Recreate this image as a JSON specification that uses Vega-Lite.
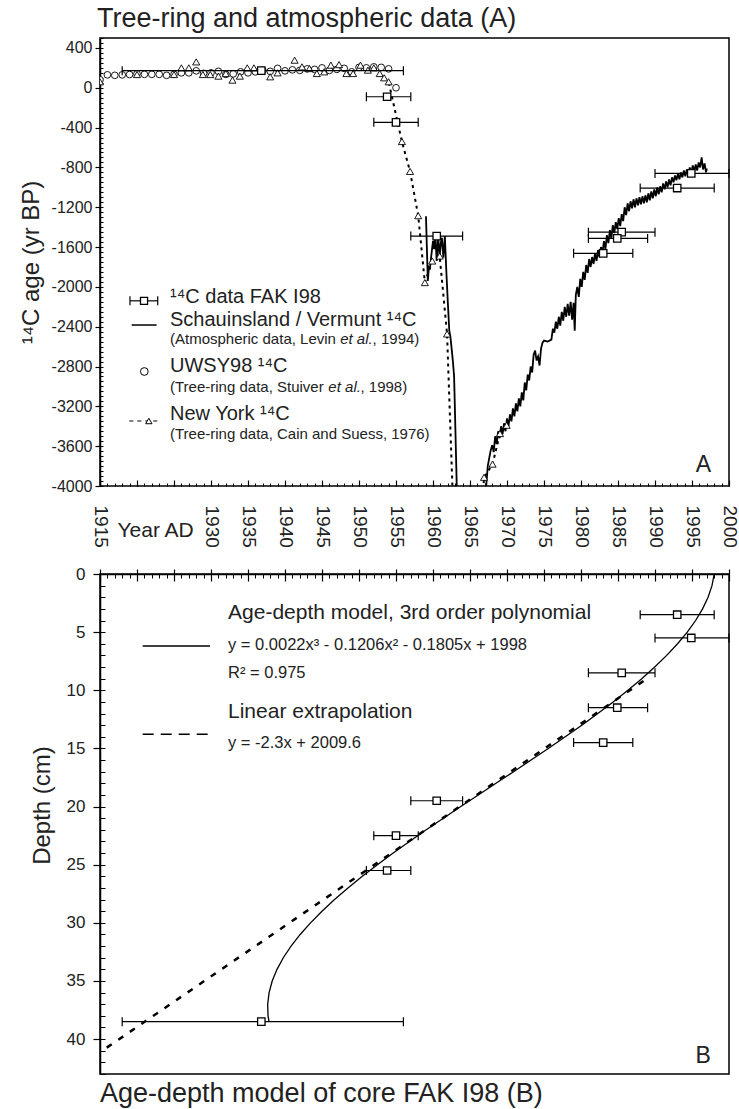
{
  "$schema": "https://vega.github.io/schema/vega-lite/v6.json",
  "background": "white",
  "padding": {"left": 18, "top": 4, "right": 2, "bottom": 6},
  "bounds": "flush",
  "spacing": 88,
  "config": {
    "font": "Liberation Sans",
    "view": {"stroke": "black", "strokeWidth": 1.5},
    "axis": {"domainColor": "black", "tickColor": "black", "labelColor": "#222", "titleColor": "#222", "labelFont": "Liberation Sans", "titleFont": "Liberation Sans", "titleFontWeight": "normal", "grid": false, "labelFlush": false, "labelOverlap": false, "labelBound": false},
    "title": {"font": "Liberation Sans", "fontWeight": "normal", "color": "#222"},
    "text": {"font": "Liberation Sans", "color": "#222"}
  },
  "title": {"text": "Tree-ring and atmospheric data (A)", "anchor": "start", "frame": "group", "fontSize": 27, "offset": 4, "dx": -3},
  "datasets": {
    "fak": [
      {"depth": 3.5, "year": 1993.0, "lo": 1988.0, "hi": 1998.0, "c14": -1007},
      {"depth": 5.5, "year": 1994.9, "lo": 1990.0, "hi": 2000.0, "c14": -860},
      {"depth": 8.5, "year": 1985.5, "lo": 1981.0, "hi": 1990.0, "c14": -1450},
      {"depth": 11.5, "year": 1984.9, "lo": 1981.0, "hi": 1989.0, "c14": -1513},
      {"depth": 14.5, "year": 1983.0, "lo": 1979.0, "hi": 1987.0, "c14": -1663},
      {"depth": 19.5, "year": 1960.5, "lo": 1957.0, "hi": 1964.0, "c14": -1490},
      {"depth": 22.5, "year": 1955.0, "lo": 1952.0, "hi": 1958.0, "c14": -347},
      {"depth": 25.5, "year": 1953.8, "lo": 1951.0, "hi": 1957.0, "c14": -90},
      {"depth": 38.5, "year": 1936.8, "lo": 1918.0, "hi": 1956.0, "c14": 172}
    ],
    "atm": [
      {"year": 1959.05, "c14": -1290}, {"year": 1959.3, "c14": -1940}, {"year": 1959.45, "c14": -1800},
      {"year": 1959.6, "c14": -1810}, {"year": 1959.75, "c14": -1700}, {"year": 1959.9, "c14": -1600},
      {"year": 1960.0, "c14": -1540}, {"year": 1960.15, "c14": -1620}, {"year": 1960.3, "c14": -1473},
      {"year": 1960.5, "c14": -1740}, {"year": 1960.7, "c14": -1490}, {"year": 1960.9, "c14": -1707},
      {"year": 1961.05, "c14": -1560}, {"year": 1961.2, "c14": -1507}, {"year": 1961.4, "c14": -1707},
      {"year": 1961.6, "c14": -1490}, {"year": 1961.8, "c14": -1840}, {"year": 1962.0, "c14": -2150},
      {"year": 1962.2, "c14": -2440}, {"year": 1962.35, "c14": -2500}, {"year": 1962.5, "c14": -2607},
      {"year": 1962.6, "c14": -2680}, {"year": 1962.7, "c14": -2757}, {"year": 1962.85, "c14": -2900},
      {"year": 1962.9, "c14": -3040}, {"year": 1963.2, "c14": -3973}, {"year": 1963.5, "c14": -5500},
      {"year": 1964.0, "c14": -6800}, {"year": 1964.5, "c14": -7200}, {"year": 1965.0, "c14": -6900},
      {"year": 1966.0, "c14": -5800}, {"year": 1966.8, "c14": -4600}, {"year": 1967.1, "c14": -4100},
      {"year": 1967.2, "c14": -3990}, {"year": 1967.4, "c14": -3800}, {"year": 1967.6, "c14": -3720},
      {"year": 1967.8, "c14": -3640}, {"year": 1968.0, "c14": -3590}, {"year": 1968.2, "c14": -3660},
      {"year": 1968.4, "c14": -3500}, {"year": 1968.6, "c14": -3580}, {"year": 1968.8, "c14": -3450},
      {"year": 1969.0, "c14": -3520}, {"year": 1969.2, "c14": -3400}, {"year": 1969.4, "c14": -3480},
      {"year": 1969.6, "c14": -3370}, {"year": 1969.8, "c14": -3450}, {"year": 1970.0, "c14": -3320},
      {"year": 1970.2, "c14": -3400}, {"year": 1970.4, "c14": -3280}, {"year": 1970.6, "c14": -3350},
      {"year": 1970.8, "c14": -3220}, {"year": 1971.0, "c14": -3300}, {"year": 1971.2, "c14": -3170},
      {"year": 1971.4, "c14": -3250}, {"year": 1971.6, "c14": -3120}, {"year": 1971.8, "c14": -3200},
      {"year": 1972.0, "c14": -3060}, {"year": 1972.2, "c14": -3140}, {"year": 1972.4, "c14": -2960},
      {"year": 1972.6, "c14": -3040}, {"year": 1972.8, "c14": -2880}, {"year": 1973.0, "c14": -2940},
      {"year": 1973.2, "c14": -2800}, {"year": 1973.4, "c14": -2860}, {"year": 1973.6, "c14": -2680},
      {"year": 1973.8, "c14": -2640}, {"year": 1974.0, "c14": -2740}, {"year": 1974.2, "c14": -2700},
      {"year": 1974.4, "c14": -2790}, {"year": 1974.6, "c14": -2620}, {"year": 1974.8, "c14": -2560},
      {"year": 1975.0, "c14": -2540}, {"year": 1975.5, "c14": -2550}, {"year": 1976.0, "c14": -2530},
      {"year": 1976.2, "c14": -2420}, {"year": 1976.4, "c14": -2460}, {"year": 1976.6, "c14": -2350},
      {"year": 1976.8, "c14": -2420}, {"year": 1977.0, "c14": -2300}, {"year": 1977.2, "c14": -2390},
      {"year": 1977.4, "c14": -2250}, {"year": 1977.6, "c14": -2340}, {"year": 1977.8, "c14": -2200},
      {"year": 1978.0, "c14": -2300}, {"year": 1978.2, "c14": -2170}, {"year": 1978.4, "c14": -2290},
      {"year": 1978.6, "c14": -2150}, {"year": 1978.8, "c14": -2330}, {"year": 1979.0, "c14": -2160},
      {"year": 1979.15, "c14": -2440}, {"year": 1979.3, "c14": -2080}, {"year": 1979.5, "c14": -2000},
      {"year": 1979.7, "c14": -2100}, {"year": 1979.9, "c14": -1920}, {"year": 1980.1, "c14": -2000},
      {"year": 1980.3, "c14": -1850}, {"year": 1980.5, "c14": -1930}, {"year": 1980.7, "c14": -1780},
      {"year": 1980.9, "c14": -1860}, {"year": 1981.1, "c14": -1720}, {"year": 1981.3, "c14": -1800},
      {"year": 1981.5, "c14": -1700}, {"year": 1981.7, "c14": -1770}, {"year": 1981.9, "c14": -1660},
      {"year": 1982.1, "c14": -1740}, {"year": 1982.3, "c14": -1630}, {"year": 1982.5, "c14": -1700},
      {"year": 1982.7, "c14": -1600}, {"year": 1982.9, "c14": -1660}, {"year": 1983.1, "c14": -1540},
      {"year": 1983.3, "c14": -1620}, {"year": 1983.5, "c14": -1480}, {"year": 1983.7, "c14": -1560},
      {"year": 1983.9, "c14": -1430}, {"year": 1984.1, "c14": -1510}, {"year": 1984.3, "c14": -1380},
      {"year": 1984.5, "c14": -1460}, {"year": 1984.7, "c14": -1350}, {"year": 1984.9, "c14": -1420},
      {"year": 1985.1, "c14": -1310}, {"year": 1985.3, "c14": -1390}, {"year": 1985.5, "c14": -1270},
      {"year": 1985.7, "c14": -1340}, {"year": 1985.9, "c14": -1200}, {"year": 1986.1, "c14": -1280},
      {"year": 1986.3, "c14": -1160}, {"year": 1986.5, "c14": -1240}, {"year": 1986.7, "c14": -1140},
      {"year": 1986.9, "c14": -1210}, {"year": 1987.1, "c14": -1120}, {"year": 1987.3, "c14": -1200},
      {"year": 1987.5, "c14": -1110}, {"year": 1987.7, "c14": -1180}, {"year": 1987.9, "c14": -1100},
      {"year": 1988.1, "c14": -1170}, {"year": 1988.3, "c14": -1090}, {"year": 1988.5, "c14": -1160},
      {"year": 1988.7, "c14": -1080}, {"year": 1988.9, "c14": -1150}, {"year": 1989.1, "c14": -1060},
      {"year": 1989.3, "c14": -1130}, {"year": 1989.5, "c14": -1040}, {"year": 1989.7, "c14": -1110},
      {"year": 1989.9, "c14": -1020}, {"year": 1990.1, "c14": -1090}, {"year": 1990.3, "c14": -1000},
      {"year": 1990.5, "c14": -1070}, {"year": 1990.7, "c14": -990}, {"year": 1990.9, "c14": -1050},
      {"year": 1991.1, "c14": -960}, {"year": 1991.3, "c14": -1020}, {"year": 1991.5, "c14": -940},
      {"year": 1991.7, "c14": -1000}, {"year": 1991.9, "c14": -920}, {"year": 1992.1, "c14": -980},
      {"year": 1992.3, "c14": -900}, {"year": 1992.5, "c14": -950}, {"year": 1992.7, "c14": -880},
      {"year": 1992.9, "c14": -930}, {"year": 1993.1, "c14": -860}, {"year": 1993.3, "c14": -920},
      {"year": 1993.5, "c14": -850}, {"year": 1993.7, "c14": -900}, {"year": 1993.9, "c14": -830},
      {"year": 1994.1, "c14": -890}, {"year": 1994.3, "c14": -820}, {"year": 1994.5, "c14": -870},
      {"year": 1994.7, "c14": -800}, {"year": 1994.9, "c14": -860}, {"year": 1995.1, "c14": -780},
      {"year": 1995.3, "c14": -840}, {"year": 1995.5, "c14": -770}, {"year": 1995.7, "c14": -830},
      {"year": 1995.9, "c14": -750}, {"year": 1996.1, "c14": -800}, {"year": 1996.3, "c14": -700},
      {"year": 1996.5, "c14": -820}, {"year": 1996.7, "c14": -760}, {"year": 1996.9, "c14": -850},
      {"year": 1997.0, "c14": -810}
    ],
    "uwsy": [
      {"year": 1915, "c14": 80}, {"year": 1916, "c14": 130}, {"year": 1917, "c14": 125}, {"year": 1918, "c14": 130},
      {"year": 1919, "c14": 133}, {"year": 1920, "c14": 140}, {"year": 1921, "c14": 135}, {"year": 1922, "c14": 135},
      {"year": 1923, "c14": 135}, {"year": 1924, "c14": 125}, {"year": 1925, "c14": 135}, {"year": 1926, "c14": 150},
      {"year": 1927, "c14": 150}, {"year": 1928, "c14": 170}, {"year": 1929, "c14": 145}, {"year": 1930, "c14": 150},
      {"year": 1931, "c14": 165}, {"year": 1932, "c14": 135}, {"year": 1933, "c14": 140}, {"year": 1934, "c14": 160},
      {"year": 1935, "c14": 150}, {"year": 1936, "c14": 160}, {"year": 1937, "c14": 175}, {"year": 1938, "c14": 165},
      {"year": 1939, "c14": 195}, {"year": 1940, "c14": 170}, {"year": 1941, "c14": 180}, {"year": 1942, "c14": 175},
      {"year": 1943, "c14": 190}, {"year": 1944, "c14": 185}, {"year": 1945, "c14": 200}, {"year": 1946, "c14": 175},
      {"year": 1947, "c14": 185}, {"year": 1948, "c14": 195}, {"year": 1949, "c14": 160}, {"year": 1950, "c14": 205},
      {"year": 1951, "c14": 200}, {"year": 1952, "c14": 210}, {"year": 1953, "c14": 205}, {"year": 1954, "c14": 190},
      {"year": 1955, "c14": 0}
    ],
    "ny": [
      {"year": 1915.0, "c14": 60}, {"year": 1920.0, "c14": 133}, {"year": 1925.0, "c14": 133},
      {"year": 1926.0, "c14": 200}, {"year": 1927.0, "c14": 200}, {"year": 1928.0, "c14": 260},
      {"year": 1928.9, "c14": 133}, {"year": 1929.9, "c14": 133}, {"year": 1931.0, "c14": 117},
      {"year": 1932.0, "c14": 143}, {"year": 1932.9, "c14": 77}, {"year": 1933.9, "c14": 117},
      {"year": 1934.9, "c14": 200}, {"year": 1935.8, "c14": 200}, {"year": 1938.0, "c14": 110},
      {"year": 1939.0, "c14": 150}, {"year": 1941.3, "c14": 277}, {"year": 1942.3, "c14": 210},
      {"year": 1943.3, "c14": 193}, {"year": 1944.3, "c14": 143}, {"year": 1945.3, "c14": 160},
      {"year": 1946.2, "c14": 227}, {"year": 1947.3, "c14": 233}, {"year": 1948.3, "c14": 143},
      {"year": 1949.2, "c14": 143}, {"year": 1950.2, "c14": 227}, {"year": 1951.2, "c14": 177},
      {"year": 1952.0, "c14": 200}, {"year": 1952.8, "c14": 143}, {"year": 1953.4, "c14": 100},
      {"year": 1954.0, "c14": 60}, {"year": 1955.8, "c14": -540}, {"year": 1956.9, "c14": -840},
      {"year": 1958.0, "c14": -1285}, {"year": 1958.9, "c14": -1957}, {"year": 1959.9, "c14": -1740},
      {"year": 1960.9, "c14": -1690}, {"year": 1961.9, "c14": -2473}, {"year": 1963.0, "c14": -4800},
      {"year": 1964.0, "c14": -6500}, {"year": 1965.0, "c14": -6700}, {"year": 1966.0, "c14": -5000},
      {"year": 1966.9, "c14": -3913}, {"year": 1968.05, "c14": -3780}, {"year": 1969.05, "c14": -3473},
      {"year": 1969.95, "c14": -3390}
    ],
    "poly": [
      {"depth": 0, "year": 1998.0}, {"depth": 1, "year": 1997.7}, {"depth": 2, "year": 1997.17},
      {"depth": 3, "year": 1996.43}, {"depth": 4, "year": 1995.49}, {"depth": 5, "year": 1994.36},
      {"depth": 6, "year": 1993.05}, {"depth": 7, "year": 1991.58}, {"depth": 8, "year": 1989.96},
      {"depth": 9, "year": 1988.21}, {"depth": 10, "year": 1986.34}, {"depth": 11, "year": 1984.35},
      {"depth": 12, "year": 1982.27}, {"depth": 13, "year": 1980.11}, {"depth": 14, "year": 1977.87},
      {"depth": 15, "year": 1975.58}, {"depth": 16, "year": 1973.25}, {"depth": 17, "year": 1970.89},
      {"depth": 18, "year": 1968.51}, {"depth": 19, "year": 1966.12}, {"depth": 20, "year": 1963.75},
      {"depth": 21, "year": 1961.4}, {"depth": 22, "year": 1959.08}, {"depth": 23, "year": 1956.82},
      {"depth": 24, "year": 1954.62}, {"depth": 25, "year": 1952.49}, {"depth": 26, "year": 1950.45},
      {"depth": 27, "year": 1948.51}, {"depth": 28, "year": 1946.69}, {"depth": 29, "year": 1945.0},
      {"depth": 30, "year": 1943.45}, {"depth": 31, "year": 1942.05}, {"depth": 32, "year": 1940.82},
      {"depth": 33, "year": 1939.77}, {"depth": 34, "year": 1938.92}, {"depth": 35, "year": 1938.27},
      {"depth": 36, "year": 1937.85}, {"depth": 37, "year": 1937.66}, {"depth": 38, "year": 1937.71},
      {"depth": 38.5, "year": 1937.84}
    ],
    "lin": [
      {"depth": 9.2, "year": 1988.44}, {"depth": 41.13, "year": 1915.0}
    ]
  },
  "vconcat": [
    {
      "width": 629,
      "height": 448,
      "resolve": {"axis": {"x": "independent", "y": "independent"}},
      "layer": [
        {
          "data": {"name": "atm"},
          "mark": {"type": "line", "color": "black", "strokeWidth": 1.8, "clip": true},
          "encoding": {
            "x": {"field": "year", "type": "quantitative", "scale": {"domain": [1915, 2000], "nice": false, "zero": false},
              "axis": {"orient": "bottom", "tickCount": 85, "labels": false, "tickSize": 3, "offset": -3, "domain": false, "title": null, "tickWidth": 1}},
            "y": {"field": "c14", "type": "quantitative", "scale": {"domain": [-4000, 500], "nice": false, "zero": false},
              "axis": {"orient": "left", "tickCount": 90, "labels": false, "tickSize": 3, "offset": -3, "domain": false, "title": null, "tickWidth": 1}}
          }
        },
        {
          "data": {"name": "ny"},
          "transform": [{"filter": "datum.year >= 1953.4"}],
          "mark": {"type": "line", "color": "black", "strokeWidth": 2, "strokeDash": [3, 4], "clip": true},
          "encoding": {
            "x": {"field": "year", "type": "quantitative", "axis": null},
            "y": {"field": "c14", "type": "quantitative", "axis": null}
          }
        },
        {
          "data": {"name": "uwsy"},
          "mark": {"type": "point", "shape": "circle", "filled": true, "fill": "white", "stroke": "black", "strokeWidth": 0.9, "size": 45, "opacity": 1, "clip": true},
          "encoding": {
            "x": {"field": "year", "type": "quantitative", "axis": null},
            "y": {"field": "c14", "type": "quantitative", "axis": null}
          }
        },
        {
          "data": {"name": "ny"},
          "mark": {"type": "point", "shape": "triangle-up", "filled": true, "fill": "white", "stroke": "black", "strokeWidth": 0.9, "size": 50, "opacity": 1, "clip": true},
          "encoding": {
            "x": {"field": "year", "type": "quantitative", "axis": null},
            "y": {"field": "c14", "type": "quantitative", "axis": null}
          }
        },
        {
          "data": {"name": "fak"},
          "mark": {"type": "rule", "color": "black", "strokeWidth": 1.2},
          "encoding": {
            "x": {"field": "lo", "type": "quantitative",
              "axis": {"orient": "bottom", "values": [1915, 1920, 1925, 1930, 1935, 1940, 1945, 1950, 1955, 1960, 1965, 1970, 1975, 1980, 1985, 1990, 1995, 2000],
                "labelExpr": "datum.value == 1920 || datum.value == 1925 ? '' : '' + datum.value",
                "labelAngle": 90, "labelAlign": "left", "labelBaseline": "middle", "labelFontSize": 19, "labelPadding": 19,
                "tickSize": 6, "offset": -6, "domain": false, "tickWidth": 1.2,
                "title": "Year AD", "titleAngle": 0, "titleAlign": "left", "titleBaseline": "middle", "titleFontSize": 21, "titleX": 17, "titleY": 50}},
            "x2": {"field": "hi"},
            "y": {"field": "c14", "type": "quantitative",
              "axis": {"orient": "left", "values": [-4000, -3600, -3200, -2800, -2400, -2000, -1600, -1200, -800, -400, 0, 400],
                "labelExpr": "'' + datum.value", "labelFontSize": 16, "labelPadding": 3, "tickSize": 5, "tickWidth": 1.2,
                "domain": true, "domainWidth": 1.5, "title": "¹⁴C age (yr BP)", "titleFontSize": 24, "titlePadding": 8}}
          }
        },
        {
          "data": {"name": "fak"},
          "mark": {"type": "tick", "orient": "vertical", "color": "black", "size": 9, "thickness": 1.2, "opacity": 1},
          "encoding": {
            "x": {"field": "lo", "type": "quantitative", "axis": null},
            "y": {"field": "c14", "type": "quantitative", "axis": null}
          }
        },
        {
          "data": {"name": "fak"},
          "mark": {"type": "tick", "orient": "vertical", "color": "black", "size": 9, "thickness": 1.2, "opacity": 1},
          "encoding": {
            "x": {"field": "hi", "type": "quantitative", "axis": null},
            "y": {"field": "c14", "type": "quantitative", "axis": null}
          }
        },
        {
          "data": {"name": "fak"},
          "mark": {"type": "point", "shape": "square", "filled": true, "fill": "white", "stroke": "black", "strokeWidth": 1.3, "size": 55, "opacity": 1},
          "encoding": {
            "x": {"field": "year", "type": "quantitative", "axis": null},
            "y": {"field": "c14", "type": "quantitative", "axis": null}
          }
        },
        {
          "data": {"values": [{"x1": 1919.05, "x2": 1922.8, "y": -2140}]},
          "mark": {"type": "rule", "color": "black", "strokeWidth": 1.2},
          "encoding": {
            "x": {"field": "x1", "type": "quantitative", "axis": null},
            "x2": {"field": "x2"},
            "y": {"field": "y", "type": "quantitative", "axis": null}
          }
        },
        {
          "data": {"values": [{"x": 1919.05, "y": -2140}, {"x": 1922.8, "y": -2140}]},
          "mark": {"type": "tick", "orient": "vertical", "color": "black", "size": 9, "thickness": 1.2, "opacity": 1},
          "encoding": {
            "x": {"field": "x", "type": "quantitative", "axis": null},
            "y": {"field": "y", "type": "quantitative", "axis": null}
          }
        },
        {
          "data": {"values": [{"x": 1920.95, "y": -2140}]},
          "mark": {"type": "point", "shape": "square", "filled": true, "fill": "white", "stroke": "black", "strokeWidth": 1.3, "size": 50, "opacity": 1},
          "encoding": {
            "x": {"field": "x", "type": "quantitative", "axis": null},
            "y": {"field": "y", "type": "quantitative", "axis": null}
          }
        },
        {
          "data": {"values": [{"x1": 1919.28, "x2": 1922.65, "y": -2383}]},
          "mark": {"type": "rule", "color": "black", "strokeWidth": 1.5},
          "encoding": {
            "x": {"field": "x1", "type": "quantitative", "axis": null},
            "x2": {"field": "x2"},
            "y": {"field": "y", "type": "quantitative", "axis": null}
          }
        },
        {
          "data": {"values": [{"x": 1920.99, "y": -2850}]},
          "mark": {"type": "point", "shape": "circle", "filled": true, "fill": "white", "stroke": "black", "strokeWidth": 1, "size": 60, "opacity": 1},
          "encoding": {
            "x": {"field": "x", "type": "quantitative", "axis": null},
            "y": {"field": "y", "type": "quantitative", "axis": null}
          }
        },
        {
          "data": {"values": [{"x1": 1918.96, "x2": 1923.28, "y": -3347}]},
          "mark": {"type": "rule", "color": "black", "strokeWidth": 1, "strokeDash": [4, 4]},
          "encoding": {
            "x": {"field": "x1", "type": "quantitative", "axis": null},
            "x2": {"field": "x2"},
            "y": {"field": "y", "type": "quantitative", "axis": null}
          }
        },
        {
          "data": {"values": [{"x": 1921.6, "y": -3347}]},
          "mark": {"type": "point", "shape": "triangle-up", "filled": true, "fill": "white", "stroke": "black", "strokeWidth": 1, "size": 40, "opacity": 1},
          "encoding": {
            "x": {"field": "x", "type": "quantitative", "axis": null},
            "y": {"field": "y", "type": "quantitative", "axis": null}
          }
        },
        {
          "data": {"values": [
            {"x": 1924.46, "y": -2100, "t": "¹⁴C data FAK I98"},
            {"x": 1924.46, "y": -2335, "t": "Schauinsland / Vermunt ¹⁴C"},
            {"x": 1924.46, "y": -2790, "t": "UWSY98 ¹⁴C"},
            {"x": 1924.46, "y": -3273, "t": "New York ¹⁴C"}
          ]},
          "mark": {"type": "text", "align": "left", "baseline": "middle", "fontSize": 20, "color": "#222"},
          "encoding": {
            "x": {"field": "x", "type": "quantitative", "axis": null},
            "y": {"field": "y", "type": "quantitative", "axis": null},
            "text": {"field": "t"}
          }
        },
        {
          "data": {"values": [
            {"x": 1924.46, "y": -2520, "t": "(Atmospheric data, Levin"},
            {"x": 1951.84, "y": -2520, "t": ", 1994)"},
            {"x": 1924.46, "y": -3007, "t": "(Tree-ring data, Stuiver"},
            {"x": 1950.2, "y": -3007, "t": ", 1998)"},
            {"x": 1924.46, "y": -3480, "t": "(Tree-ring data, Cain and Suess, 1976)"}
          ]},
          "mark": {"type": "text", "align": "left", "baseline": "middle", "fontSize": 15, "color": "#222"},
          "encoding": {
            "x": {"field": "x", "type": "quantitative", "axis": null},
            "y": {"field": "y", "type": "quantitative", "axis": null},
            "text": {"field": "t"}
          }
        },
        {
          "data": {"values": [
            {"x": 1947.45, "y": -2520, "t": "et al."},
            {"x": 1945.86, "y": -3007, "t": "et al."}
          ]},
          "mark": {"type": "text", "align": "left", "baseline": "middle", "fontSize": 15, "fontStyle": "italic", "color": "#222"},
          "encoding": {
            "x": {"field": "x", "type": "quantitative", "axis": null},
            "y": {"field": "y", "type": "quantitative", "axis": null},
            "text": {"field": "t"}
          }
        },
        {
          "data": {"values": [{"x": 1996.55, "y": -3790, "t": "A"}]},
          "mark": {"type": "text", "align": "center", "baseline": "middle", "fontSize": 23, "color": "#222"},
          "encoding": {
            "x": {"field": "x", "type": "quantitative", "axis": null},
            "y": {"field": "y", "type": "quantitative", "axis": null},
            "text": {"field": "t"}
          }
        }
      ]
    },
    {
      "width": 629,
      "height": 500,
      "title": {"text": "Age-depth model of core FAK I98 (B)", "orient": "bottom", "anchor": "start", "frame": "group", "fontSize": 27, "offset": 6},
      "resolve": {"axis": {"x": "independent", "y": "independent"}},
      "layer": [
        {
          "data": {"name": "poly"},
          "mark": {"type": "line", "color": "black", "strokeWidth": 1.3},
          "encoding": {
            "x": {"field": "year", "type": "quantitative", "scale": {"domain": [1915, 2000], "nice": false, "zero": false},
              "axis": {"orient": "top", "values": [1915, 1920, 1925, 1930, 1935, 1940, 1945, 1950, 1955, 1960, 1965, 1970, 1975, 1980, 1985, 1990, 1995, 2000],
                "labels": false, "tickSize": 5, "tickWidth": 1.2, "domain": true, "domainWidth": 1.5, "title": null}},
            "y": {"field": "depth", "type": "quantitative", "scale": {"domain": [0, 43], "nice": false, "zero": false, "reverse": true},
              "axis": {"orient": "left", "values": [0, 5, 10, 15, 20, 25, 30, 35, 40], "labelExpr": "'' + datum.value",
                "labelFontSize": 17, "labelPadding": 8, "tickSize": 7, "tickWidth": 1.2, "domain": true, "domainWidth": 1.5,
                "title": "Depth (cm)", "titleFontSize": 24, "titlePadding": 12, "titleY": 231}},
            "order": {"field": "depth", "type": "quantitative"}
          }
        },
        {
          "data": {"name": "lin"},
          "mark": {"type": "line", "color": "black", "strokeWidth": 2.5, "strokeDash": [6, 8], "clip": true},
          "encoding": {
            "x": {"field": "year", "type": "quantitative",
              "axis": {"orient": "top", "tickCount": 17, "labels": false, "tickSize": 7, "offset": -7, "domain": false, "tickWidth": 1.2, "title": null}},
            "y": {"field": "depth", "type": "quantitative",
              "axis": {"orient": "left", "tickCount": 43, "labels": false, "tickSize": 5, "offset": -5, "domain": false, "tickWidth": 1, "title": null}},
            "order": {"field": "depth", "type": "quantitative"}
          }
        },
        {
          "data": {"name": "fak"},
          "mark": {"type": "rule", "color": "black", "strokeWidth": 1.2},
          "encoding": {
            "x": {"field": "lo", "type": "quantitative",
              "axis": {"orient": "top", "tickCount": 85, "labels": false, "tickSize": 4, "offset": -4, "domain": false, "tickWidth": 1, "title": null}},
            "x2": {"field": "hi"},
            "y": {"field": "depth", "type": "quantitative", "axis": null}
          }
        },
        {
          "data": {"name": "fak"},
          "mark": {"type": "tick", "orient": "vertical", "color": "black", "size": 9, "thickness": 1.2, "opacity": 1},
          "encoding": {
            "x": {"field": "lo", "type": "quantitative", "axis": null},
            "y": {"field": "depth", "type": "quantitative", "axis": null}
          }
        },
        {
          "data": {"name": "fak"},
          "mark": {"type": "tick", "orient": "vertical", "color": "black", "size": 9, "thickness": 1.2, "opacity": 1},
          "encoding": {
            "x": {"field": "hi", "type": "quantitative", "axis": null},
            "y": {"field": "depth", "type": "quantitative", "axis": null}
          }
        },
        {
          "data": {"name": "fak"},
          "mark": {"type": "point", "shape": "square", "filled": true, "fill": "white", "stroke": "black", "strokeWidth": 1.3, "size": 55, "opacity": 1},
          "encoding": {
            "x": {"field": "year", "type": "quantitative", "axis": null},
            "y": {"field": "depth", "type": "quantitative", "axis": null}
          }
        },
        {
          "data": {"values": [{"x1": 1920.77, "x2": 1929.86, "d": 6.19}]},
          "mark": {"type": "rule", "color": "black", "strokeWidth": 1.5},
          "encoding": {
            "x": {"field": "x1", "type": "quantitative", "axis": null},
            "x2": {"field": "x2"},
            "y": {"field": "d", "type": "quantitative", "axis": null}
          }
        },
        {
          "data": {"values": [{"x1": 1920.77, "x2": 1930.3, "d": 13.78}]},
          "mark": {"type": "rule", "color": "black", "strokeWidth": 1.5, "strokeDash": [11, 7]},
          "encoding": {
            "x": {"field": "x1", "type": "quantitative", "axis": null},
            "x2": {"field": "x2"},
            "y": {"field": "d", "type": "quantitative", "axis": null}
          }
        },
        {
          "data": {"values": [
            {"x": 1932.3, "d": 3.35, "t": "Age-depth model, 3rd order polynomial"},
            {"x": 1932.3, "d": 11.84, "t": "Linear extrapolation"}
          ]},
          "mark": {"type": "text", "align": "left", "baseline": "middle", "fontSize": 21, "color": "#222"},
          "encoding": {
            "x": {"field": "x", "type": "quantitative", "axis": null},
            "y": {"field": "d", "type": "quantitative", "axis": null},
            "text": {"field": "t"}
          }
        },
        {
          "data": {"values": [
            {"x": 1932.3, "d": 6.1, "t": "y = 0.0022x³ - 0.1206x² - 0.1805x + 1998"},
            {"x": 1932.3, "d": 8.5, "t": "R² = 0.975"},
            {"x": 1932.3, "d": 14.5, "t": "y = -2.3x + 2009.6"}
          ]},
          "mark": {"type": "text", "align": "left", "baseline": "middle", "fontSize": 16.5, "color": "#222"},
          "encoding": {
            "x": {"field": "x", "type": "quantitative", "axis": null},
            "y": {"field": "d", "type": "quantitative", "axis": null},
            "text": {"field": "t"}
          }
        },
        {
          "data": {"values": [{"x": 1996.5, "d": 41.44, "t": "B"}]},
          "mark": {"type": "text", "align": "center", "baseline": "middle", "fontSize": 23, "color": "#222"},
          "encoding": {
            "x": {"field": "x", "type": "quantitative", "axis": null},
            "y": {"field": "d", "type": "quantitative", "axis": null},
            "text": {"field": "t"}
          }
        }
      ]
    }
  ]
}
